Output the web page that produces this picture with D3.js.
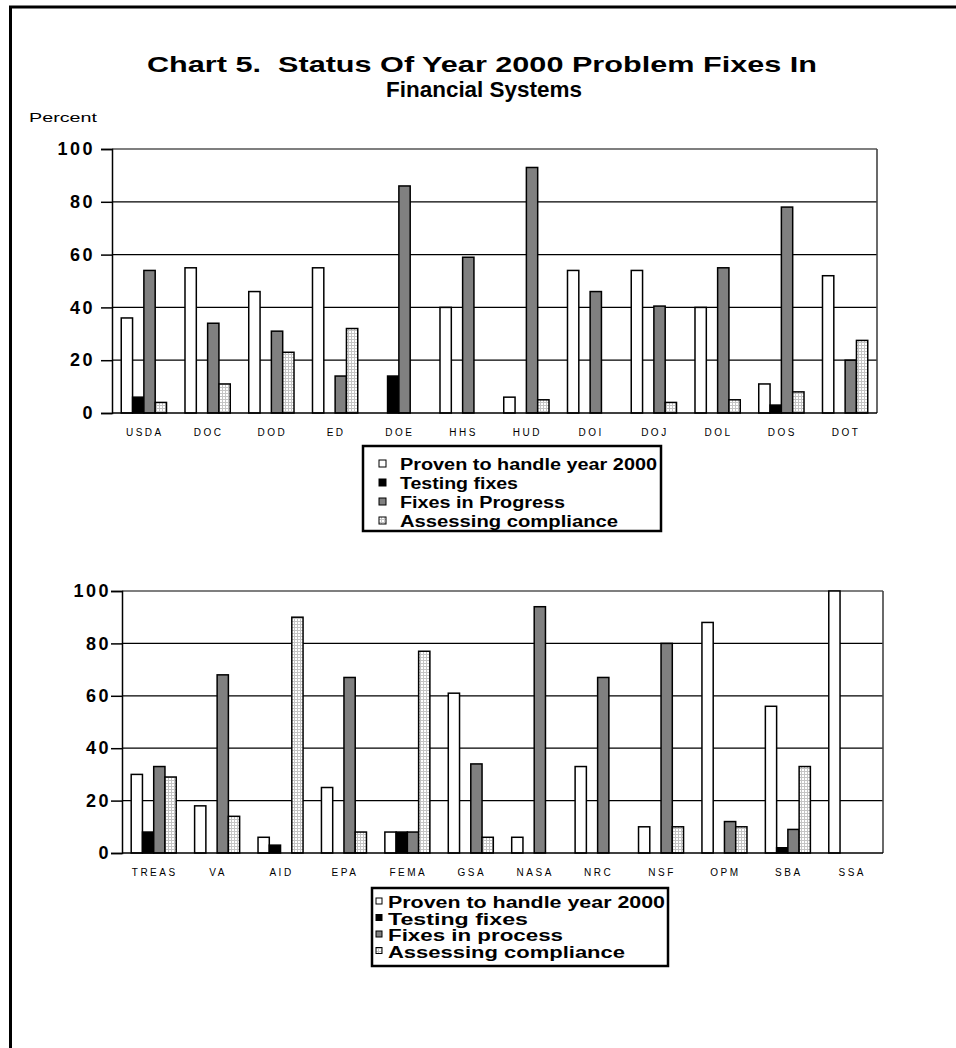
<!DOCTYPE html>
<html>
<head>
<meta charset="utf-8">
<script src="https://cdn.jsdelivr.net/npm/d3@7"></script>
<style>
  html, body { margin: 0; padding: 0; background: #fff; }
  svg { display: block; }
  text { font-family: "Liberation Sans", Arial, sans-serif; }
</style>
</head>
<body>
<svg id="chart" width="956" height="1048"></svg>
<script>
// ---- Data ----
const seriesTop = ["Proven to handle year 2000", "Testing fixes", "Fixes in Progress", "Assessing compliance"];
const seriesBottom = ["Proven to handle year 2000", "Testing fixes", "Fixes in process", "Assessing compliance"];
const yTicks = [0, 20, 40, 60, 80, 100];

const categoriesTop = ["USDA", "DOC", "DOD", "ED", "DOE", "HHS", "HUD", "DOI", "DOJ", "DOL", "DOS", "DOT"];
const provenTop     = [36, 55, 46, 55, 0, 40, 6, 54, 54, 40, 11, 52];
const testingTop    = [6, 0, 0, 0, 14, 0, 0, 0, 0, 0, 3, 0];
const progressTop   = [54, 34, 31, 14, 86, 59, 93, 46, 40.5, 55, 78, 20];
const assessingTop  = [4, 11, 23, 32, 0, 0, 5, 0, 4, 5, 8, 27.5];

const categoriesBottom = ["TREAS", "VA", "AID", "EPA", "FEMA", "GSA", "NASA", "NRC", "NSF", "OPM", "SBA", "SSA"];
const provenBottom     = [30, 18, 6, 25, 8, 61, 6, 33, 10, 88, 56, 100];
const testingBottom    = [8, 0, 3, 0, 8, 0, 0, 0, 0, 0, 2, 0];
const progressBottom   = [33, 68, 0, 67, 8, 34, 94, 67, 80, 12, 9, 0];
const assessingBottom  = [29, 14, 90, 8, 77, 6, 0, 0, 10, 10, 33, 0];

// ---- Drawing ----
const svg = d3.select("#chart");
const defs = svg.append("defs");
const pat = defs.append("pattern").attr("id", "dots").attr("patternUnits", "userSpaceOnUse")
  .attr("width", 3).attr("height", 3);
pat.append("rect").attr("width", 3).attr("height", 3).attr("fill", "#ffffff");
pat.append("rect").attr("x", 0).attr("y", 0).attr("width", 3).attr("height", 1).attr("fill", "#c4c4c4");
pat.append("rect").attr("x", 0).attr("y", 0).attr("width", 1).attr("height", 3).attr("fill", "#c4c4c4");

const fills = ["#ffffff", "#000000", "#808080", "url(#dots)"];

// page frame
svg.append("line").attr("x1", 9).attr("x2", 956).attr("y1", 7).attr("y2", 7).attr("stroke", "#000").attr("stroke-width", 3);
svg.append("line").attr("x1", 10.5).attr("x2", 10.5).attr("y1", 6).attr("y2", 1048).attr("stroke", "#000").attr("stroke-width", 3);

// title
svg.append("text").attr("x", 147).attr("y", 72).attr("textLength", 670).attr("lengthAdjust", "spacingAndGlyphs")
  .attr("font-size", 21.5).attr("font-weight", "bold").style("white-space", "pre")
  .text("Chart 5.  Status Of Year 2000 Problem Fixes In");
svg.append("text").attr("x", 386).attr("y", 97).attr("textLength", 196).attr("lengthAdjust", "spacingAndGlyphs")
  .attr("font-size", 22.5).attr("font-weight", "bold")
  .text("Financial Systems");
svg.append("text").attr("x", 29).attr("y", 122).attr("textLength", 68).attr("lengthAdjust", "spacingAndGlyphs")
  .attr("font-size", 12.5).text("Percent");

function drawChart(cfg) {
  const {categories, values, x0, x1, yTop, yBot, tickGap, catLabelY, legend} = cfg;
  const g = svg.append("g");
  const x = d3.scaleBand().domain(categories).range([x0, x1]).paddingInner(0.29).paddingOuter(0.145);
  const xs = d3.scaleBand().domain(d3.range(4)).range([0, x.bandwidth()]);
  const y = d3.scaleLinear().domain([0, 100]).range([yBot, yTop]);

  // grid lines
  g.selectAll("line.grid").data(yTicks.filter(t => t > 0)).join("line")
    .attr("x1", x0).attr("x2", x1).attr("y1", d => y(d)).attr("y2", d => y(d))
    .attr("stroke", "#000").attr("stroke-width", 1.2);
  // right border
  g.append("line").attr("x1", x1).attr("x2", x1).attr("y1", yTop).attr("y2", yBot)
    .attr("stroke", "#444").attr("stroke-width", 1.6);

  // y axis
  const ax = g.append("g").attr("transform", `translate(${x0},0)`)
    .call(d3.axisLeft(y).tickValues(yTicks).tickSize(11).tickPadding(tickGap).tickFormat(d3.format("d")));
  ax.select(".domain").attr("stroke", "#000").attr("stroke-width", 1.5);
  ax.selectAll(".tick line").attr("stroke", "#000").attr("stroke-width", 1.5);
  ax.selectAll(".tick text").attr("font-size", 18).attr("font-weight", "bold")
    .attr("font-family", "Liberation Sans, Arial, sans-serif").attr("fill", "#000")
    .style("letter-spacing", "2.5px");

  // bars
  const rows = [];
  categories.forEach((c, i) => {
    values.forEach((arr, s) => {
      if (arr[i] > 0) rows.push({c, s, v: arr[i]});
    });
  });
  g.selectAll("rect.bar").data(rows).join("rect")
    .attr("x", d => x(d.c) + xs(d.s))
    .attr("y", d => y(d.v))
    .attr("width", xs.bandwidth())
    .attr("height", d => y(0) - y(d.v))
    .attr("fill", d => fills[d.s])
    .attr("stroke", "#000").attr("stroke-width", 1.5);

  // baseline
  g.append("line").attr("x1", x0).attr("x2", x1).attr("y1", yBot).attr("y2", yBot)
    .attr("stroke", "#000").attr("stroke-width", 1.5);

  // category labels
  g.selectAll("text.cat").data(categories).join("text")
    .attr("x", d => x(d) + x.bandwidth() / 2 + 1)
    .attr("y", catLabelY)
    .attr("text-anchor", "middle").attr("font-size", 10)
    .style("letter-spacing", "2.5px")
    .text(d => d);

  // legend
  const lg = g.append("g");
  lg.append("rect").attr("x", legend.x).attr("y", legend.y).attr("width", legend.w).attr("height", legend.h)
    .attr("fill", "#fff").attr("stroke", "#000").attr("stroke-width", 2.5);
  legend.names.forEach((name, i) => {
    const by = legend.firstBase + i * legend.step;
    lg.append("rect").attr("x", legend.sx).attr("y", by - 10).attr("width", legend.ss).attr("height", legend.ss)
      .attr("fill", fills[i]).attr("stroke", "#000").attr("stroke-width", 1);
    lg.append("text").attr("x", legend.tx).attr("y", by)
      .attr("font-size", legend.fs).attr("font-weight", "bold")
      .attr("textLength", legend.lens[i]).attr("lengthAdjust", "spacingAndGlyphs")
      .text(name);
  });
}

drawChart({
  categories: categoriesTop,
  values: [provenTop, testingTop, progressTop, assessingTop],
  x0: 112, x1: 877, yTop: 149, yBot: 413, tickGap: 6, catLabelY: 436,
  legend: {x: 363, y: 446, w: 298, h: 85, names: seriesTop, firstBase: 470, step: 19,
           sx: 379, ss: 7, tx: 400, fs: 16, lens: [257, 118, 165, 218]}
});

drawChart({
  categories: categoriesBottom,
  values: [provenBottom, testingBottom, progressBottom, assessingBottom],
  x0: 122, x1: 883, yTop: 591, yBot: 853, tickGap: 0, catLabelY: 876,
  legend: {x: 372, y: 888, w: 296, h: 78, names: seriesBottom, firstBase: 908, step: 16.5,
           sx: 376, ss: 6, tx: 388, fs: 16, lens: [277, 140, 175, 237]}
});
</script>
</body>
</html>
